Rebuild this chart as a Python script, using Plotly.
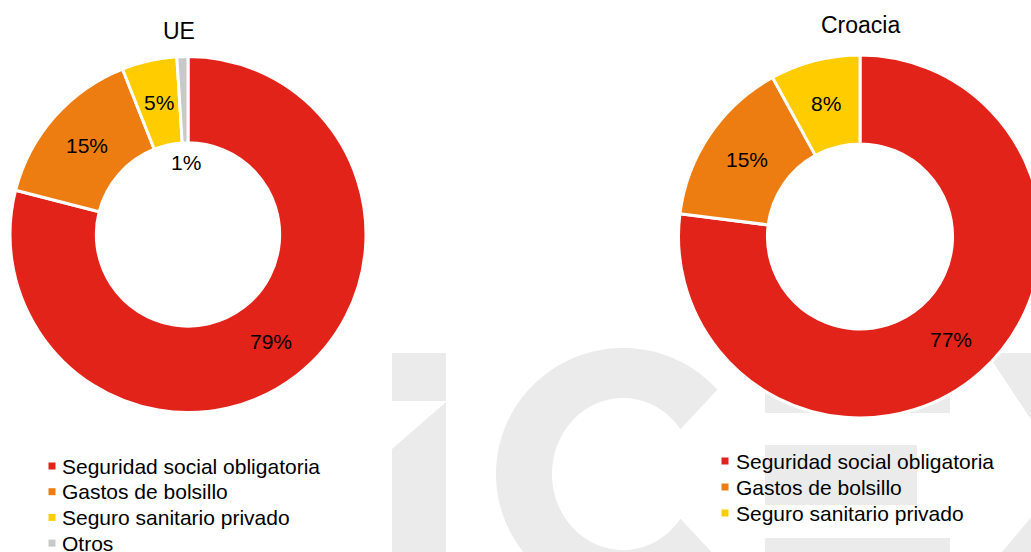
import numpy as np
import plotly.graph_objects as go

# ---------------- data ----------------
categories_ue = ["Seguridad social obligatoria", "Gastos de bolsillo",
                 "Seguro sanitario privado", "Otros"]
values_ue = [79, 15, 5, 1]

categories_hr = ["Seguridad social obligatoria", "Gastos de bolsillo",
                 "Seguro sanitario privado"]
values_hr = [77, 15, 8]

titles = ["UE", "Croacia"]

category_colors = {
    "Seguridad social obligatoria": "#E2231A",
    "Gastos de bolsillo": "#EE7D11",
    "Seguro sanitario privado": "#FFCC00",
    "Otros": "#C8C8C8",
}

# ---------------- layout helpers ----------------
W, H = 1060, 552
FONT = "Arial, Liberation Sans, sans-serif"
WM = "#EBEBEB"


def px(x):
    return x / W


def py(y):
    return 1 - y / H


def poly_path(points):
    return "M" + "L".join(f"{px(x):.5f},{py(y):.5f}" for x, y in points) + "Z"


# pie geometry (pixel centre, outer radius, hole fraction)
pies = [
    dict(cats=categories_ue, vals=values_ue, cx=188, cy=234.5, r=178, hole=0.515,
         title_xy=(179, 31),
         # label radius: mid-ring for all but the tiny slice, whose label sits in the hole
         label_r=["mid", "mid", "mid", "hole"]),
    dict(cats=categories_hr, vals=values_hr, cx=860, cy=236.5, r=181.5, hole=0.51,
         title_xy=(860, 25),
         label_r=["mid", "mid", "mid"]),
]

fig = go.Figure()
annotations = []
shapes = []

for p, title in zip(pies, titles):
    fig.add_trace(go.Pie(
        labels=p["cats"], values=p["vals"], hole=p["hole"], sort=False,
        direction="clockwise", rotation=0,
        marker=dict(colors=[category_colors[c] for c in p["cats"]],
                    line=dict(color="white", width=3)),
        textinfo="none",
        domain=dict(x=[px(p["cx"] - p["r"]), px(p["cx"] + p["r"])],
                    y=[py(p["cy"] + p["r"]), py(p["cy"] - p["r"])]),
        showlegend=False, hoverinfo="skip",
    ))
    # title
    annotations.append(dict(text=title, x=px(p["title_xy"][0]), y=py(p["title_xy"][1]),
                            xref="paper", yref="paper", xanchor="center",
                            yanchor="middle", showarrow=False,
                            font=dict(size=23, color="black", family=FONT)))
    # data labels, placed at the angular middle of each slice
    total = sum(p["vals"])
    cum = np.cumsum([0] + p["vals"][:-1])
    r_in = p["r"] * p["hole"]
    for v, c0, mode in zip(p["vals"], cum, p["label_r"]):
        theta = 2 * np.pi * (c0 + v / 2) / total
        rr = (p["r"] + r_in) / 2 if mode == "mid" else r_in - 20
        lx = p["cx"] + rr * np.sin(theta)
        ly = p["cy"] - rr * np.cos(theta)
        annotations.append(dict(text=f"{v}%", x=px(lx), y=py(ly), xref="paper",
                                yref="paper", xanchor="center", yanchor="middle",
                                showarrow=False,
                                font=dict(size=21, color="black", family=FONT)))

# manual legends
legend_specs = [
    (categories_ue, 52, 62, 466, 25.7),
    (categories_hr, 725, 736, 461, 26.0),
]
for cats, sq_x, tx, y0, dy in legend_specs:
    for i, c in enumerate(cats):
        cy = y0 + i * dy
        shapes.append(dict(type="rect", xref="paper", yref="paper",
                           x0=px(sq_x - 3.5), x1=px(sq_x + 3.5),
                           y0=py(cy + 3.5), y1=py(cy - 3.5),
                           fillcolor=category_colors[c], line=dict(width=0),
                           layer="above"))
        annotations.append(dict(text=c, x=px(tx - 2), y=py(cy), xref="paper",
                                yref="paper", xanchor="left", yanchor="middle",
                                showarrow=False,
                                font=dict(size=21, color="black", family=FONT)))

# ---------------- watermark (ICEX logo) ----------------
wm_polys = []
# i
wm_polys.append([(392, 353), (446, 353), (446, 401), (392, 401)])
wm_polys.append([(392, 449), (446, 402), (446, 600), (392, 600)])
# C
ccx, ccy = 623, 474
t_out = np.linspace(np.radians(42), np.radians(318), 120)
t_in = np.linspace(np.radians(324), np.radians(36), 120)
outer = [(ccx + 127 * np.cos(t), ccy - 126 * np.sin(t)) for t in t_out]
inner = [(ccx + 71 * np.cos(t), ccy - 76 * np.sin(t)) for t in t_in]
wm_polys.append(outer + inner)
# E
wm_polys.append([(765, 353), (950, 353), (950, 413), (765, 413)])
wm_polys.append([(765, 445), (917, 445), (917, 505), (765, 505)])
wm_polys.append([(765, 538), (950, 538), (950, 600), (765, 600)])
# X
wm_polys.append([(987, 353), (1050, 353), (1200, 580), (1137, 580)])
wm_polys.append([(990, 566), (1060, 566), (1170, 436), (1100, 436)])

for poly in wm_polys:
    shapes.append(dict(type="path", xref="paper", yref="paper",
                       path=poly_path(poly), fillcolor=WM, line=dict(width=0),
                       layer="below"))

fig.update_layout(
    width=W, height=H,
    margin=dict(l=0, r=0, t=0, b=0, pad=0),
    paper_bgcolor="white", plot_bgcolor="white",
    annotations=annotations, shapes=shapes,
    showlegend=False,
    font=dict(family=FONT, color="black"),
)

fig.write_html(
    "out.html",
    post_script="document.documentElement.style.overflow='hidden';"
                "document.body.style.overflow='hidden';",
)
